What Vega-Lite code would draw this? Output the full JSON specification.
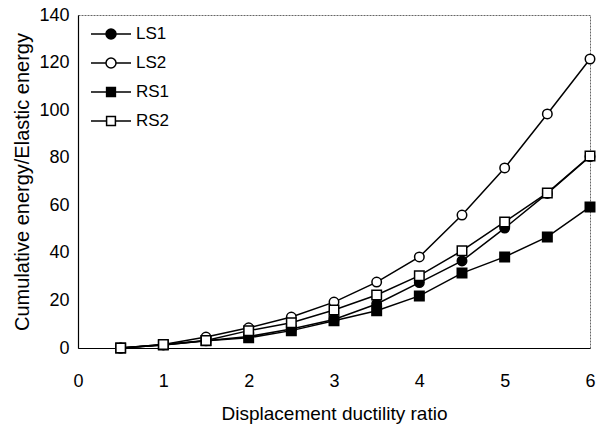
{
  "$schema": "https://vega.github.io/schema/vega-lite/v6.json",
  "width": 512,
  "height": 333,
  "autosize": {"type": "none"},
  "padding": {"left": 78, "top": 15, "right": 7, "bottom": 79},
  "config": {
    "font": "Liberation Sans",
    "view": {"stroke": "#666", "strokeWidth": 1, "strokeDash": [2, 1]},
    "axis": {
      "grid": false,
      "ticks": false,
      "domainColor": "black",
      "domainWidth": 1.2,
      "labelColor": "black",
      "titleColor": "black",
      "titleFontWeight": "normal",
      "labelFontSize": 18
    },
    "legend": {
      "title": null,
      "orient": "none",
      "legendX": 12,
      "legendY": -2,
      "padding": 0,
      "labelFontSize": 17,
      "labelColor": "black",
      "labelOffset": 4,
      "symbolSize": 1600,
      "rowPadding": -13,
      "symbolStrokeColor": "black",
      "symbolStrokeWidth": 1.5,
      "symbolOpacity": 1
    }
  },
  "data": {
    "values": [
      {"series": "LS1", "x": 0.5, "y": 0},
      {"series": "LS1", "x": 1, "y": 1.3},
      {"series": "LS1", "x": 1.5, "y": 3},
      {"series": "LS1", "x": 2, "y": 4.8},
      {"series": "LS1", "x": 2.5, "y": 8},
      {"series": "LS1", "x": 3, "y": 12},
      {"series": "LS1", "x": 3.5, "y": 18.5},
      {"series": "LS1", "x": 4, "y": 27.5},
      {"series": "LS1", "x": 4.5, "y": 36.6},
      {"series": "LS1", "x": 5, "y": 50.4},
      {"series": "LS1", "x": 5.5, "y": 65},
      {"series": "LS1", "x": 6, "y": 80.5},
      {"series": "LS2", "x": 0.5, "y": 0},
      {"series": "LS2", "x": 1, "y": 1.5},
      {"series": "LS2", "x": 1.5, "y": 4.6},
      {"series": "LS2", "x": 2, "y": 8.5},
      {"series": "LS2", "x": 2.5, "y": 13},
      {"series": "LS2", "x": 3, "y": 19.3},
      {"series": "LS2", "x": 3.5, "y": 27.7},
      {"series": "LS2", "x": 4, "y": 38.3},
      {"series": "LS2", "x": 4.5, "y": 55.9},
      {"series": "LS2", "x": 5, "y": 75.7},
      {"series": "LS2", "x": 5.5, "y": 98.4},
      {"series": "LS2", "x": 6, "y": 121.5},
      {"series": "RS1", "x": 0.5, "y": 0},
      {"series": "RS1", "x": 1, "y": 1.3},
      {"series": "RS1", "x": 1.5, "y": 3},
      {"series": "RS1", "x": 2, "y": 4.3},
      {"series": "RS1", "x": 2.5, "y": 7.3},
      {"series": "RS1", "x": 3, "y": 11.5},
      {"series": "RS1", "x": 3.5, "y": 15.7},
      {"series": "RS1", "x": 4, "y": 21.9},
      {"series": "RS1", "x": 4.5, "y": 31.5},
      {"series": "RS1", "x": 5, "y": 38.3},
      {"series": "RS1", "x": 5.5, "y": 46.7},
      {"series": "RS1", "x": 6, "y": 59.3},
      {"series": "RS2", "x": 0.5, "y": 0},
      {"series": "RS2", "x": 1, "y": 1.5},
      {"series": "RS2", "x": 1.5, "y": 3.2},
      {"series": "RS2", "x": 2, "y": 7.3},
      {"series": "RS2", "x": 2.5, "y": 10.6},
      {"series": "RS2", "x": 3, "y": 16},
      {"series": "RS2", "x": 3.5, "y": 22.3},
      {"series": "RS2", "x": 4, "y": 30.4},
      {"series": "RS2", "x": 4.5, "y": 40.9},
      {"series": "RS2", "x": 5, "y": 53},
      {"series": "RS2", "x": 5.5, "y": 65.2},
      {"series": "RS2", "x": 6, "y": 80.7}
    ]
  },
  "encoding": {
    "x": {
      "field": "x",
      "type": "quantitative",
      "scale": {"domain": [0, 6]},
      "axis": {
        "title": "Displacement ductility ratio",
        "values": [0, 1, 2, 3, 4, 5, 6],
        "labelPadding": 24,
        "titlePadding": 14,
        "titleFontSize": 19,
        "labelFlush": false
      }
    },
    "y": {
      "field": "y",
      "type": "quantitative",
      "scale": {"domain": [0, 140]},
      "axis": {
        "title": "Cumulative energy/Elastic energy",
        "values": [0, 20, 40, 60, 80, 100, 120, 140],
        "labelPadding": 9,
        "titlePadding": 6,
        "titleFontSize": 20
      }
    }
  },
  "layer": [
    {
      "mark": {"type": "line", "stroke": "black", "strokeWidth": 1.5},
      "encoding": {"detail": {"field": "series", "type": "nominal"}}
    },
    {
      "mark": {"type": "point", "filled": true, "opacity": 0, "strokeWidth": 1.5},
      "encoding": {
        "shape": {
          "field": "series",
          "type": "nominal",
          "scale": {
            "domain": ["LS1", "LS2", "RS1", "RS2"],
            "range": [
              "M-1,0H-0.25M0.25,0H1M-0.25,0A0.25,0.25 0 1,1 0.25,0A0.25,0.25 0 1,1 -0.25,0Z",
              "M-1,0H-0.25M0.25,0H1M-0.25,0A0.25,0.25 0 1,1 0.25,0A0.25,0.25 0 1,1 -0.25,0Z",
              "M-1,0H-0.22M0.22,0H1M-0.22,-0.22H0.22V0.22H-0.22Z",
              "M-1,0H-0.22M0.22,0H1M-0.22,-0.22H0.22V0.22H-0.22Z"
            ]
          }
        },
        "fill": {
          "field": "series",
          "type": "nominal",
          "scale": {"domain": ["LS1", "LS2", "RS1", "RS2"], "range": ["black", "white", "black", "white"]}
        },
        "stroke": {
          "field": "series",
          "type": "nominal",
          "scale": {"domain": ["LS1", "LS2", "RS1", "RS2"], "range": ["black", "black", "black", "black"]}
        }
      }
    },
    {
      "transform": [{"filter": "datum.series == 'LS1' || datum.series == 'LS2'"}],
      "mark": {"type": "point", "shape": "circle", "filled": true, "opacity": 1, "stroke": "black", "strokeWidth": 1.5, "size": 90},
      "encoding": {
        "fill": {"field": "series", "type": "nominal"}
      }
    },
    {
      "transform": [{"filter": "datum.series == 'RS1' || datum.series == 'RS2'"}],
      "mark": {"type": "point", "shape": "square", "filled": true, "opacity": 1, "stroke": "black", "strokeWidth": 1.5, "size": 90},
      "encoding": {
        "fill": {"field": "series", "type": "nominal"}
      }
    }
  ]
}
